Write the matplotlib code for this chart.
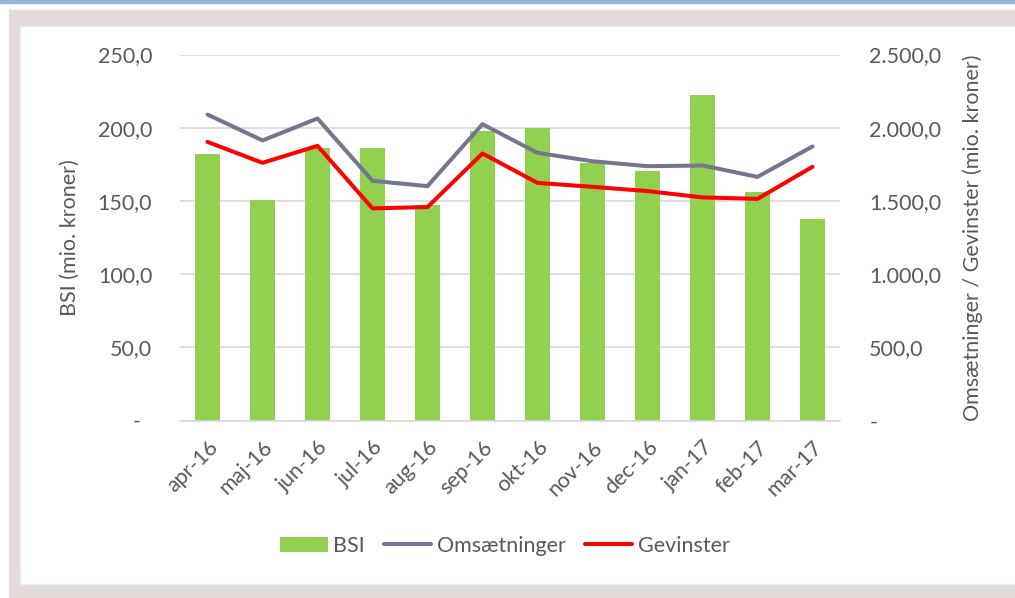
import matplotlib
matplotlib.use("Agg")
import matplotlib.pyplot as plt
from matplotlib.patches import Rectangle
from matplotlib.ticker import FuncFormatter
import numpy as np

plt.rcParams['font.family'] = ['Lato', 'DejaVu Sans']

months = ['apr-16', 'maj-16', 'jun-16', 'jul-16', 'aug-16', 'sep-16',
          'okt-16', 'nov-16', 'dec-16', 'jan-17', 'feb-17', 'mar-17']
bsi = [182, 150.5, 186, 186, 147, 198, 200, 176, 170.5, 222.5, 156, 137.5]
omsaetninger = [2090, 1913, 2063, 1637, 1601, 2024, 1828, 1771, 1737, 1742, 1664, 1872]
gevinster = [1903, 1760, 1876, 1449, 1458, 1824, 1623, 1596, 1567, 1524, 1514, 1733]

W, H = 1015, 598
txt = '#595959'
grid = '#d9d9d9'

fig = plt.figure(figsize=(W / 100, H / 100), dpi=100)

# frame around the chart
fig.add_artist(Rectangle((0, 1 - 3 / H), 1, 3 / H, transform=fig.transFigure,
                         color='#95b3d7', zorder=-10))
fig.add_artist(Rectangle((9 / W, 0), 1, (H - 10) / H, transform=fig.transFigure,
                         color='#e2dbd9', zorder=-9))
fig.add_artist(Rectangle((20 / W, 1 - 584 / H), 1, (584 - 26) / H, transform=fig.transFigure,
                         facecolor='white', edgecolor='#ececec', lw=1, zorder=-8))


def dk(v, pos=None):
    if v == 0:
        return '-  '
    s = f"{v:,.1f}"
    return s.replace(',', 'X').replace('.', ',').replace('X', '.')


ax = fig.add_axes([180 / W, 1 - 420.5 / H, 660 / W, 366 / H])
ax.patch.set_visible(False)
x = np.arange(len(months))
ax.bar(x, bsi, width=25 / 55, color='#92d050', label='BSI', zorder=2)
ax.set_xlim(-0.5, len(months) - 0.5)
ax.set_ylim(0, 250)
ax.set_yticks(np.arange(0, 251, 50))
ax.yaxis.set_major_formatter(FuncFormatter(dk))
ax.grid(axis='y', color=grid, lw=1.2, zorder=0)
ax.set_axisbelow(True)
ax.set_xticks(x)
ax.set_xticklabels(months, rotation=45, ha='right', rotation_mode='anchor')
for s in ['top', 'right', 'left']:
    ax.spines[s].set_visible(False)
ax.spines['bottom'].set_color(grid)
ax.spines['bottom'].set_linewidth(1.2)
ax.tick_params(axis='both', length=0, colors=txt, labelsize=15.5)
ax.tick_params(axis='x', pad=12)
ax.tick_params(axis='y', pad=20)
ax.set_ylabel('BSI (mio. kroner)', color=txt, fontsize=15.5, labelpad=13)

ax2 = ax.twinx()
ax2.plot(x, omsaetninger, color='#75758f', lw=2.9, label='Omsætninger',
         solid_capstyle='round', zorder=3)
ax2.plot(x, gevinster, color='#ff0000', lw=2.9, label='Gevinster',
         solid_capstyle='round', zorder=3)
ax2.set_ylim(0, 2500)
ax2.set_yticks(np.arange(0, 2501, 500))
ax2.yaxis.set_major_formatter(FuncFormatter(lambda v, p: '-' if v == 0 else dk(v)))
for s in ['top', 'right', 'left', 'bottom']:
    ax2.spines[s].set_visible(False)
ax2.tick_params(axis='y', length=0, colors=txt, labelsize=15.5, pad=21)
ax2.set_ylabel('Omsætninger / Gevinster (mio. kroner)', color=txt, fontsize=15.5, labelpad=15)

h1, l1 = ax.get_legend_handles_labels()
h2, l2 = ax2.get_legend_handles_labels()
leg = fig.legend(h1 + h2, l1 + l2, loc='center', bbox_to_anchor=(505 / W, 1 - 546 / H),
                 ncol=3, frameon=False, fontsize=15.5, handlelength=2.2, handletextpad=0.25,
                 columnspacing=0.9, labelcolor=txt)

fig.savefig('out.png', dpi=100)
